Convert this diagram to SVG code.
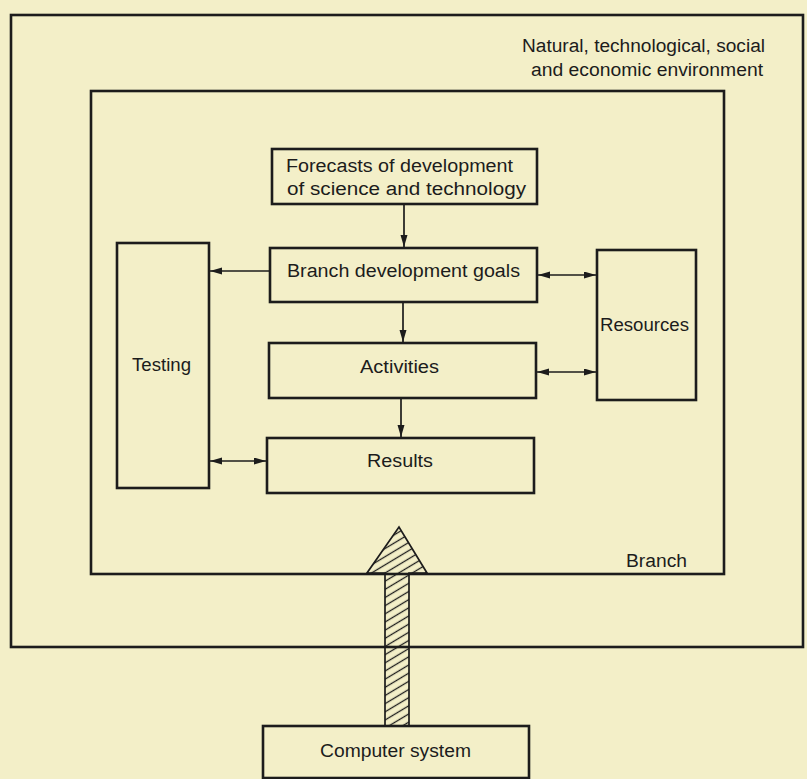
<svg xmlns="http://www.w3.org/2000/svg" width="807" height="779" viewBox="0 0 807 779">
<style>
.box{fill:none;stroke:#1c1c1c;stroke-width:2.6}
.ln{fill:none;stroke:#1c1c1c;stroke-width:1.7}
text{font-family:"Liberation Sans",Arial,sans-serif;font-size:18px;fill:#1c1c1c}
</style>
<defs>
<marker id="ah" markerUnits="userSpaceOnUse" markerWidth="14" markerHeight="8" refX="12" refY="3.5" orient="auto-start-reverse">
<path d="M0,0 L12,3.5 L0,7 z" fill="#1c1c1c"/>
</marker>
<pattern id="hatch" patternUnits="userSpaceOnUse" width="10" height="7" patternTransform="rotate(-31)">
<line x1="0" y1="3.5" x2="10" y2="3.5" stroke="#1c1c1c" stroke-width="1.3"/>
</pattern>
</defs>
<rect x="0" y="0" width="807" height="779" fill="#f3efc8"/>
<g id="environment">
<rect class="box" x="11" y="15" width="792" height="632"/>
<text x="522" y="52" textLength="243" lengthAdjust="spacingAndGlyphs">Natural, technological, social</text>
<text x="531" y="76" textLength="232" lengthAdjust="spacingAndGlyphs">and economic environment</text>
</g>
<g id="branch">
<rect class="box" x="91" y="91" width="633" height="483"/>
<text x="626" y="567" textLength="61" lengthAdjust="spacingAndGlyphs">Branch</text>
</g>
<g id="forecasts">
<rect class="box" x="272" y="149" width="265" height="55"/>
<text x="286" y="172" textLength="227" lengthAdjust="spacingAndGlyphs">Forecasts of development</text>
<text x="287" y="195" textLength="239" lengthAdjust="spacingAndGlyphs">of science and technology</text>
</g>
<g id="goals">
<rect class="box" x="270" y="248" width="267" height="54"/>
<text x="287" y="277" textLength="233" lengthAdjust="spacingAndGlyphs">Branch development goals</text>
</g>
<g id="activities">
<rect class="box" x="269" y="343" width="267" height="55"/>
<text x="360" y="373" textLength="79" lengthAdjust="spacingAndGlyphs">Activities</text>
</g>
<g id="results">
<rect class="box" x="267" y="438" width="267" height="55"/>
<text x="367" y="467" textLength="66" lengthAdjust="spacingAndGlyphs">Results</text>
</g>
<g id="testing">
<rect class="box" x="117" y="243" width="92" height="245"/>
<text x="132" y="371" textLength="59" lengthAdjust="spacingAndGlyphs">Testing</text>
</g>
<g id="resources">
<rect class="box" x="597" y="250" width="99" height="150"/>
<text x="600" y="331" textLength="89" lengthAdjust="spacingAndGlyphs">Resources</text>
</g>
<g id="computer">
<rect class="box" x="263" y="726" width="266" height="52"/>
<text x="320" y="757" textLength="151" lengthAdjust="spacingAndGlyphs">Computer system</text>
</g>
<g id="connectors">
<line class="ln" x1="404" y1="205" x2="404" y2="247" marker-end="url(#ah)"/>
<line class="ln" x1="269" y1="271" x2="210" y2="271" marker-end="url(#ah)"/>
<line class="ln" x1="538" y1="275" x2="596" y2="275" marker-start="url(#ah)" marker-end="url(#ah)"/>
<line class="ln" x1="403" y1="303" x2="403" y2="342" marker-end="url(#ah)"/>
<line class="ln" x1="537" y1="372" x2="596" y2="372" marker-start="url(#ah)" marker-end="url(#ah)"/>
<line class="ln" x1="401" y1="399" x2="401" y2="437" marker-end="url(#ah)"/>
<line class="ln" x1="210" y1="461" x2="266" y2="461" marker-start="url(#ah)" marker-end="url(#ah)"/>
<polygon points="385,726 385,573 367,573 399,527 427,573 409,573 409,726" fill="url(#hatch)" stroke="#1c1c1c" stroke-width="1.7"/>
</g>
</svg>
